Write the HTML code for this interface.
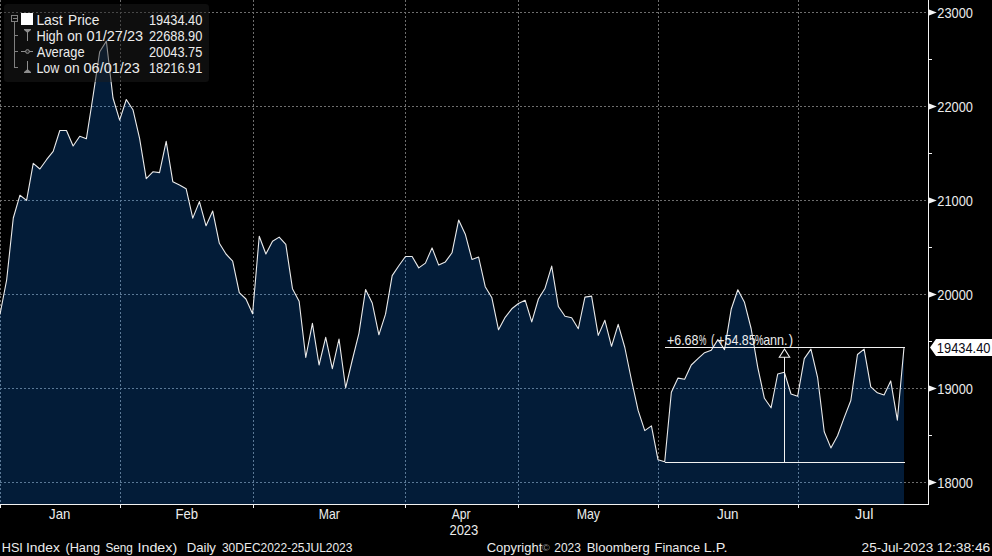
<!DOCTYPE html>
<html><head><meta charset="utf-8"><title>HSI Index</title>
<style>
html,body{margin:0;padding:0;background:#000;}
body{width:992px;height:556px;overflow:hidden;font-family:"Liberation Sans",sans-serif;}
svg{display:block;}
text{font-family:"Liberation Sans",sans-serif;}
</style></head><body>
<svg width="992" height="556" viewBox="0 0 992 556">
<defs>
<clipPath id="fillclip"><polygon points="0.00,314.50 6.65,280.00 13.29,218.00 19.94,195.20 26.59,200.40 33.24,163.30 39.88,169.00 46.53,159.70 53.18,151.40 59.82,130.50 66.47,130.50 73.12,146.00 79.76,136.30 86.41,138.70 93.06,96.00 99.71,51.70 106.35,41.10 113.00,98.00 119.65,120.20 126.29,99.50 132.94,109.70 139.59,138.30 146.24,178.60 152.88,171.80 159.53,172.60 166.18,141.30 172.82,181.70 179.47,185.10 186.12,188.70 192.76,218.10 199.41,201.60 206.06,225.80 212.71,211.10 219.35,243.30 226.00,254.00 232.65,261.10 239.29,292.70 245.94,299.00 252.59,313.80 259.24,236.30 265.88,254.00 272.53,241.30 279.18,237.10 285.82,244.40 292.47,288.70 299.12,301.20 305.76,357.50 312.41,323.30 319.06,365.00 325.71,337.40 332.35,368.60 339.00,339.00 345.65,387.80 352.29,360.00 358.94,333.30 365.59,289.50 372.24,303.00 378.88,334.80 385.53,314.20 392.18,275.60 398.82,265.80 405.47,256.50 412.12,256.50 418.76,267.90 425.41,263.10 432.06,247.90 438.71,265.10 445.35,261.90 452.00,252.80 458.65,220.10 465.29,234.20 471.94,259.40 478.59,257.00 485.24,286.70 491.88,297.80 498.53,329.80 505.18,317.30 511.82,308.80 518.47,303.50 525.12,300.20 531.76,321.90 538.41,299.00 545.06,288.20 551.71,266.10 558.35,306.50 565.00,316.30 571.65,317.70 578.29,328.75 584.94,297.10 591.59,296.10 598.24,335.40 604.88,320.30 611.53,346.30 618.18,324.30 624.82,347.50 631.47,380.00 638.12,410.40 644.76,430.60 651.41,425.90 658.06,459.80 664.71,461.80 671.35,392.30 678.00,378.10 684.65,379.20 691.29,365.00 697.94,358.70 704.59,352.70 711.24,350.20 717.88,339.60 724.53,349.60 731.18,309.30 737.82,289.80 744.47,302.30 751.12,328.50 757.76,367.30 764.41,398.30 771.06,407.80 777.71,374.00 784.35,372.20 791.00,394.00 797.65,396.20 804.29,358.60 810.94,349.10 817.59,377.30 824.24,431.70 830.88,447.90 837.53,435.80 844.18,417.60 850.82,400.50 857.47,354.50 864.12,349.10 870.76,386.80 877.41,392.80 884.06,395.00 890.71,380.90 897.35,420.20 904.00,347.50 904,504 0,504"/></clipPath>
<g id="grid" shape-rendering="crispEdges" fill="none" stroke-width="1" stroke-dasharray="2 2">
<line x1="0" y1="12.5" x2="928" y2="12.5"/>
<line x1="0" y1="106.5" x2="928" y2="106.5"/>
<line x1="0" y1="200.5" x2="928" y2="200.5"/>
<line x1="0" y1="294.5" x2="928" y2="294.5"/>
<line x1="0" y1="388.5" x2="928" y2="388.5"/>
<line x1="0" y1="482.5" x2="928" y2="482.5"/>
<line x1="0.5" y1="0" x2="0.5" y2="504"/>
<line x1="120.5" y1="0" x2="120.5" y2="504"/>
<line x1="253.5" y1="0" x2="253.5" y2="504"/>
<line x1="405.5" y1="0" x2="405.5" y2="504"/>
<line x1="518.5" y1="0" x2="518.5" y2="504"/>
<line x1="658.5" y1="0" x2="658.5" y2="504"/>
<line x1="798.5" y1="0" x2="798.5" y2="504"/>
</g></defs>
<rect width="992" height="556" fill="#000"/>
<polygon points="0.00,314.50 6.65,280.00 13.29,218.00 19.94,195.20 26.59,200.40 33.24,163.30 39.88,169.00 46.53,159.70 53.18,151.40 59.82,130.50 66.47,130.50 73.12,146.00 79.76,136.30 86.41,138.70 93.06,96.00 99.71,51.70 106.35,41.10 113.00,98.00 119.65,120.20 126.29,99.50 132.94,109.70 139.59,138.30 146.24,178.60 152.88,171.80 159.53,172.60 166.18,141.30 172.82,181.70 179.47,185.10 186.12,188.70 192.76,218.10 199.41,201.60 206.06,225.80 212.71,211.10 219.35,243.30 226.00,254.00 232.65,261.10 239.29,292.70 245.94,299.00 252.59,313.80 259.24,236.30 265.88,254.00 272.53,241.30 279.18,237.10 285.82,244.40 292.47,288.70 299.12,301.20 305.76,357.50 312.41,323.30 319.06,365.00 325.71,337.40 332.35,368.60 339.00,339.00 345.65,387.80 352.29,360.00 358.94,333.30 365.59,289.50 372.24,303.00 378.88,334.80 385.53,314.20 392.18,275.60 398.82,265.80 405.47,256.50 412.12,256.50 418.76,267.90 425.41,263.10 432.06,247.90 438.71,265.10 445.35,261.90 452.00,252.80 458.65,220.10 465.29,234.20 471.94,259.40 478.59,257.00 485.24,286.70 491.88,297.80 498.53,329.80 505.18,317.30 511.82,308.80 518.47,303.50 525.12,300.20 531.76,321.90 538.41,299.00 545.06,288.20 551.71,266.10 558.35,306.50 565.00,316.30 571.65,317.70 578.29,328.75 584.94,297.10 591.59,296.10 598.24,335.40 604.88,320.30 611.53,346.30 618.18,324.30 624.82,347.50 631.47,380.00 638.12,410.40 644.76,430.60 651.41,425.90 658.06,459.80 664.71,461.80 671.35,392.30 678.00,378.10 684.65,379.20 691.29,365.00 697.94,358.70 704.59,352.70 711.24,350.20 717.88,339.60 724.53,349.60 731.18,309.30 737.82,289.80 744.47,302.30 751.12,328.50 757.76,367.30 764.41,398.30 771.06,407.80 777.71,374.00 784.35,372.20 791.00,394.00 797.65,396.20 804.29,358.60 810.94,349.10 817.59,377.30 824.24,431.70 830.88,447.90 837.53,435.80 844.18,417.60 850.82,400.50 857.47,354.50 864.12,349.10 870.76,386.80 877.41,392.80 884.06,395.00 890.71,380.90 897.35,420.20 904.00,347.50 904,504 0,504" fill="#031c38"/>
<use href="#grid" stroke="#6e6e6e"/>
<g clip-path="url(#fillclip)"><polygon points="0.00,314.50 6.65,280.00 13.29,218.00 19.94,195.20 26.59,200.40 33.24,163.30 39.88,169.00 46.53,159.70 53.18,151.40 59.82,130.50 66.47,130.50 73.12,146.00 79.76,136.30 86.41,138.70 93.06,96.00 99.71,51.70 106.35,41.10 113.00,98.00 119.65,120.20 126.29,99.50 132.94,109.70 139.59,138.30 146.24,178.60 152.88,171.80 159.53,172.60 166.18,141.30 172.82,181.70 179.47,185.10 186.12,188.70 192.76,218.10 199.41,201.60 206.06,225.80 212.71,211.10 219.35,243.30 226.00,254.00 232.65,261.10 239.29,292.70 245.94,299.00 252.59,313.80 259.24,236.30 265.88,254.00 272.53,241.30 279.18,237.10 285.82,244.40 292.47,288.70 299.12,301.20 305.76,357.50 312.41,323.30 319.06,365.00 325.71,337.40 332.35,368.60 339.00,339.00 345.65,387.80 352.29,360.00 358.94,333.30 365.59,289.50 372.24,303.00 378.88,334.80 385.53,314.20 392.18,275.60 398.82,265.80 405.47,256.50 412.12,256.50 418.76,267.90 425.41,263.10 432.06,247.90 438.71,265.10 445.35,261.90 452.00,252.80 458.65,220.10 465.29,234.20 471.94,259.40 478.59,257.00 485.24,286.70 491.88,297.80 498.53,329.80 505.18,317.30 511.82,308.80 518.47,303.50 525.12,300.20 531.76,321.90 538.41,299.00 545.06,288.20 551.71,266.10 558.35,306.50 565.00,316.30 571.65,317.70 578.29,328.75 584.94,297.10 591.59,296.10 598.24,335.40 604.88,320.30 611.53,346.30 618.18,324.30 624.82,347.50 631.47,380.00 638.12,410.40 644.76,430.60 651.41,425.90 658.06,459.80 664.71,461.80 671.35,392.30 678.00,378.10 684.65,379.20 691.29,365.00 697.94,358.70 704.59,352.70 711.24,350.20 717.88,339.60 724.53,349.60 731.18,309.30 737.82,289.80 744.47,302.30 751.12,328.50 757.76,367.30 764.41,398.30 771.06,407.80 777.71,374.00 784.35,372.20 791.00,394.00 797.65,396.20 804.29,358.60 810.94,349.10 817.59,377.30 824.24,431.70 830.88,447.90 837.53,435.80 844.18,417.60 850.82,400.50 857.47,354.50 864.12,349.10 870.76,386.80 877.41,392.80 884.06,395.00 890.71,380.90 897.35,420.20 904.00,347.50 904,504 0,504" fill="#031c38"/><use href="#grid" stroke="#5a7896"/></g>
<polyline points="0.00,314.50 6.65,280.00 13.29,218.00 19.94,195.20 26.59,200.40 33.24,163.30 39.88,169.00 46.53,159.70 53.18,151.40 59.82,130.50 66.47,130.50 73.12,146.00 79.76,136.30 86.41,138.70 93.06,96.00 99.71,51.70 106.35,41.10 113.00,98.00 119.65,120.20 126.29,99.50 132.94,109.70 139.59,138.30 146.24,178.60 152.88,171.80 159.53,172.60 166.18,141.30 172.82,181.70 179.47,185.10 186.12,188.70 192.76,218.10 199.41,201.60 206.06,225.80 212.71,211.10 219.35,243.30 226.00,254.00 232.65,261.10 239.29,292.70 245.94,299.00 252.59,313.80 259.24,236.30 265.88,254.00 272.53,241.30 279.18,237.10 285.82,244.40 292.47,288.70 299.12,301.20 305.76,357.50 312.41,323.30 319.06,365.00 325.71,337.40 332.35,368.60 339.00,339.00 345.65,387.80 352.29,360.00 358.94,333.30 365.59,289.50 372.24,303.00 378.88,334.80 385.53,314.20 392.18,275.60 398.82,265.80 405.47,256.50 412.12,256.50 418.76,267.90 425.41,263.10 432.06,247.90 438.71,265.10 445.35,261.90 452.00,252.80 458.65,220.10 465.29,234.20 471.94,259.40 478.59,257.00 485.24,286.70 491.88,297.80 498.53,329.80 505.18,317.30 511.82,308.80 518.47,303.50 525.12,300.20 531.76,321.90 538.41,299.00 545.06,288.20 551.71,266.10 558.35,306.50 565.00,316.30 571.65,317.70 578.29,328.75 584.94,297.10 591.59,296.10 598.24,335.40 604.88,320.30 611.53,346.30 618.18,324.30 624.82,347.50 631.47,380.00 638.12,410.40 644.76,430.60 651.41,425.90 658.06,459.80 664.71,461.80 671.35,392.30 678.00,378.10 684.65,379.20 691.29,365.00 697.94,358.70 704.59,352.70 711.24,350.20 717.88,339.60 724.53,349.60 731.18,309.30 737.82,289.80 744.47,302.30 751.12,328.50 757.76,367.30 764.41,398.30 771.06,407.80 777.71,374.00 784.35,372.20 791.00,394.00 797.65,396.20 804.29,358.60 810.94,349.10 817.59,377.30 824.24,431.70 830.88,447.90 837.53,435.80 844.18,417.60 850.82,400.50 857.47,354.50 864.12,349.10 870.76,386.80 877.41,392.80 884.06,395.00 890.71,380.90 897.35,420.20 904.00,347.50" fill="none" stroke="#ebebeb" stroke-width="1.1" stroke-linejoin="round"/>
<g shape-rendering="crispEdges" stroke="#f2f2f2" stroke-width="1" fill="none">
<line x1="665" y1="347.5" x2="905" y2="347.5"/>
<line x1="665" y1="462.5" x2="905" y2="462.5"/>
<line x1="784.5" y1="357" x2="784.5" y2="462"/>
</g>
<polygon points="784.5,349 789.7,357.2 779.3,357.2" fill="#000" stroke="#f2f2f2" stroke-width="1.1"/>
<text x="666.89" y="345" font-size="14.5" fill="#ececec" textLength="31.68" lengthAdjust="spacingAndGlyphs">+6.68</text>
<text x="698.91" y="345" font-size="14.5" fill="#ececec" textLength="7.35" lengthAdjust="spacingAndGlyphs">%</text>
<text x="710.95" y="345" font-size="14.5" fill="#ececec" textLength="3.45" lengthAdjust="spacingAndGlyphs">(</text>
<text x="717.30" y="345" font-size="14.5" fill="#ececec" textLength="38.42" lengthAdjust="spacingAndGlyphs">+54.85</text>
<text x="755.10" y="345" font-size="14.5" fill="#ececec" textLength="8.49" lengthAdjust="spacingAndGlyphs">%</text>
<text x="763.13" y="345" font-size="14.5" fill="#ececec" textLength="24.47" lengthAdjust="spacingAndGlyphs">ann.</text>
<text x="788.74" y="345" font-size="14.5" fill="#ececec" textLength="4.37" lengthAdjust="spacingAndGlyphs">)</text>
<g shape-rendering="crispEdges" stroke="#f2f2f2" stroke-width="1">
<line x1="928.5" y1="0" x2="928.5" y2="505"/>
<line x1="0" y1="504.5" x2="929" y2="504.5"/>
<line x1="0.5" y1="504" x2="0.5" y2="508"/>
<line x1="120.5" y1="504" x2="120.5" y2="508"/>
<line x1="253.5" y1="504" x2="253.5" y2="508"/>
<line x1="405.5" y1="504" x2="405.5" y2="508"/>
<line x1="518.5" y1="504" x2="518.5" y2="508"/>
<line x1="658.5" y1="504" x2="658.5" y2="508"/>
<line x1="798.5" y1="504" x2="798.5" y2="508"/>
<line x1="928" y1="59.5" x2="932" y2="59.5"/>
<line x1="928" y1="153.5" x2="932" y2="153.5"/>
<line x1="928" y1="247.5" x2="932" y2="247.5"/>
<line x1="928" y1="341.5" x2="932" y2="341.5"/>
<line x1="928" y1="435.5" x2="932" y2="435.5"/>
</g>
<polygon points="929,9.6 936.8,12.5 929,15.4" fill="#f4f4f4"/>
<text x="937.35" y="18" font-size="14.5" fill="#ececec" textLength="35.63" lengthAdjust="spacingAndGlyphs">23000</text>
<polygon points="929,103.6 936.8,106.5 929,109.4" fill="#f4f4f4"/>
<text x="937.35" y="112" font-size="14.5" fill="#ececec" textLength="35.63" lengthAdjust="spacingAndGlyphs">22000</text>
<polygon points="929,197.6 936.8,200.5 929,203.4" fill="#f4f4f4"/>
<text x="937.35" y="206" font-size="14.5" fill="#ececec" textLength="35.63" lengthAdjust="spacingAndGlyphs">21000</text>
<polygon points="929,291.6 936.8,294.5 929,297.4" fill="#f4f4f4"/>
<text x="937.35" y="300" font-size="14.5" fill="#ececec" textLength="35.63" lengthAdjust="spacingAndGlyphs">20000</text>
<polygon points="929,385.6 936.8,388.5 929,391.4" fill="#f4f4f4"/>
<text x="937.35" y="394" font-size="14.5" fill="#ececec" textLength="35.63" lengthAdjust="spacingAndGlyphs">19000</text>
<polygon points="929,479.6 936.8,482.5 929,485.4" fill="#f4f4f4"/>
<text x="937.35" y="488" font-size="14.5" fill="#ececec" textLength="35.63" lengthAdjust="spacingAndGlyphs">18000</text>
<polygon points="930,347.5 936,339 992,339 992,356 936,356" fill="#fff"/>
<text x="936.86" y="353" font-size="14.5" fill="#0a0a14" textLength="53.63" lengthAdjust="spacingAndGlyphs">19434.40</text>
<text x="49.05" y="519" font-size="14.5" fill="#ececec" textLength="21.30" lengthAdjust="spacingAndGlyphs">Jan</text>
<text x="175.57" y="519" font-size="14.5" fill="#ececec" textLength="22.57" lengthAdjust="spacingAndGlyphs">Feb</text>
<text x="318.75" y="519" font-size="14.5" fill="#ececec" textLength="21.04" lengthAdjust="spacingAndGlyphs">Mar</text>
<text x="451.76" y="519" font-size="14.5" fill="#ececec" textLength="18.92" lengthAdjust="spacingAndGlyphs">Apr</text>
<text x="576.63" y="519" font-size="14.5" fill="#ececec" textLength="23.41" lengthAdjust="spacingAndGlyphs">May</text>
<text x="716.95" y="519" font-size="14.5" fill="#ececec" textLength="21.61" lengthAdjust="spacingAndGlyphs">Jun</text>
<text x="855.07" y="519" font-size="14.5" fill="#ececec" textLength="18.38" lengthAdjust="spacingAndGlyphs">Jul</text>
<text x="449.40" y="535" font-size="14.5" fill="#ececec" textLength="28.97" lengthAdjust="spacingAndGlyphs">2023</text>
<text x="1.79" y="552" font-size="13" fill="#ececec" textLength="21.09" lengthAdjust="spacingAndGlyphs">HSI</text>
<text x="26.04" y="552" font-size="13" fill="#ececec" textLength="33.79" lengthAdjust="spacingAndGlyphs">Index</text>
<text x="65.39" y="552" font-size="13" fill="#ececec" textLength="34.80" lengthAdjust="spacingAndGlyphs">(Hang</text>
<text x="105.40" y="552" font-size="13" fill="#ececec" textLength="27.50" lengthAdjust="spacingAndGlyphs">Seng</text>
<text x="137.53" y="552" font-size="13" fill="#ececec" textLength="39.65" lengthAdjust="spacingAndGlyphs">Index)</text>
<text x="186.65" y="552" font-size="13" fill="#ececec" textLength="29.33" lengthAdjust="spacingAndGlyphs">Daily</text>
<text x="221.93" y="552" font-size="13" fill="#ececec" textLength="130.51" lengthAdjust="spacingAndGlyphs">30DEC2022-25JUL2023</text>
<text x="486.71" y="552" font-size="13" fill="#ececec" textLength="55.54" lengthAdjust="spacingAndGlyphs">Copyright</text>
<text x="554.31" y="552" font-size="13" fill="#ececec" textLength="26.55" lengthAdjust="spacingAndGlyphs">2023</text>
<text x="586.66" y="552" font-size="13" fill="#ececec" textLength="63.04" lengthAdjust="spacingAndGlyphs">Bloomberg</text>
<text x="654.59" y="552" font-size="13" fill="#ececec" textLength="45.53" lengthAdjust="spacingAndGlyphs">Finance</text>
<text x="703.75" y="552" font-size="13" fill="#ececec" textLength="23.74" lengthAdjust="spacingAndGlyphs">L.P.</text>
<text x="861.63" y="552" font-size="13" fill="#ececec" textLength="71.54" lengthAdjust="spacingAndGlyphs">25-Jul-2023</text>
<text x="936.67" y="552" font-size="13" fill="#ececec" textLength="53.60" lengthAdjust="spacingAndGlyphs">12:38:46</text>
<text x="541.94" y="551" font-size="9.5" fill="#9a9a9a" textLength="7.85" lengthAdjust="spacingAndGlyphs">©</text>
<rect x="4" y="4" width="205" height="78" rx="3.5" ry="3.5" fill="#1e1e1e" fill-opacity="0.48"/>
<g stroke="#808080" stroke-width="1" fill="none" shape-rendering="crispEdges">
<rect x="11.5" y="15.5" width="6" height="6"/>
<line x1="13" y1="18.5" x2="17" y2="18.5"/>
<line x1="14.5" y1="22" x2="14.5" y2="68"/>
<line x1="14.5" y1="35.5" x2="18" y2="35.5"/>
<line x1="14.5" y1="51.5" x2="18" y2="51.5"/>
<line x1="14.5" y1="67.5" x2="18" y2="67.5"/>
</g>
<rect x="21" y="13" width="12" height="12" fill="#fff"/>
<g fill="#8e8e8e" stroke="none">
<polygon points="24,29 31,29 31,30 28,32.6 27,32.6 24,30"/><rect x="27" y="31" width="1" height="10"/>
<rect x="21" y="51" width="12" height="1"/>
<polygon points="24,73 31,73 31,72 28,69.4 27,69.4 24,72"/><rect x="27" y="61" width="1" height="10"/>
</g>
<circle cx="27.5" cy="51.5" r="1.9" fill="#2a2a2a" stroke="#8e8e8e" stroke-width="1"/>
<text x="36.39" y="25" font-size="14.5" fill="#ececec" textLength="26.34" lengthAdjust="spacingAndGlyphs">Last</text>
<text x="68.07" y="25" font-size="14.5" fill="#ececec" textLength="31.32" lengthAdjust="spacingAndGlyphs">Price</text>
<text x="36.44" y="41" font-size="14.5" fill="#ececec" textLength="26.38" lengthAdjust="spacingAndGlyphs">High</text>
<text x="67.23" y="41" font-size="14.5" fill="#ececec" textLength="15.13" lengthAdjust="spacingAndGlyphs">on</text>
<text x="86.58" y="41" font-size="14.5" fill="#ececec" textLength="56.55" lengthAdjust="spacingAndGlyphs">01/27/23</text>
<text x="36.84" y="57" font-size="14.5" fill="#ececec" textLength="47.72" lengthAdjust="spacingAndGlyphs">Average</text>
<text x="36.39" y="73" font-size="14.5" fill="#ececec" textLength="23.08" lengthAdjust="spacingAndGlyphs">Low</text>
<text x="64.24" y="73" font-size="14.5" fill="#ececec" textLength="15.34" lengthAdjust="spacingAndGlyphs">on</text>
<text x="83.56" y="73" font-size="14.5" fill="#ececec" textLength="56.37" lengthAdjust="spacingAndGlyphs">06/01/23</text>
<text x="148.91" y="25" font-size="14.5" fill="#ececec" textLength="53.42" lengthAdjust="spacingAndGlyphs">19434.40</text>
<text x="148.91" y="41" font-size="14.5" fill="#ececec" textLength="53.42" lengthAdjust="spacingAndGlyphs">22688.90</text>
<text x="148.91" y="57" font-size="14.5" fill="#ececec" textLength="53.42" lengthAdjust="spacingAndGlyphs">20043.75</text>
<text x="148.91" y="73" font-size="14.5" fill="#ececec" textLength="53.42" lengthAdjust="spacingAndGlyphs">18216.91</text>
</svg></body></html>
